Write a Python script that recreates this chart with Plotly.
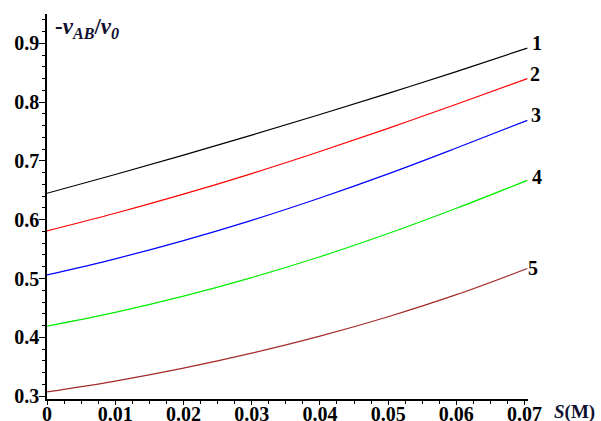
import plotly.graph_objects as go

s_vals = [0, 0.01, 0.02, 0.03, 0.04, 0.05, 0.06, 0.0704]
curve1 = [0.645, 0.677, 0.710, 0.744, 0.779, 0.815, 0.852, 0.892]
curve2 = [0.581, 0.611, 0.6435, 0.6785, 0.716, 0.7555, 0.7965, 0.840]
curve3 = [0.506, 0.5335, 0.5645, 0.599, 0.637, 0.678, 0.722, 0.769]
curve4 = [0.419, 0.4425, 0.470, 0.5015, 0.537, 0.5765, 0.6195, 0.667]
curve5 = [0.307, 0.3255, 0.3475, 0.373, 0.402, 0.435, 0.4725, 0.517]
labels = ["1", "2", "3", "4", "5"]
colors = ["#000000", "#ff0000", "#0000ff", "#00ee00", "#a52a2a"]

font_fam = "Liberation Serif"
fig = go.Figure()
curves = [curve1, curve2, curve3, curve4, curve5]
label_shift = [(3, 5), (1, 5), (2, 5), (3, 3), (-1, 1)]
for c, lab, col, (dx, dy) in zip(curves, labels, colors, label_shift):
    fig.add_trace(go.Scatter(x=s_vals, y=c, mode="lines",
                             line=dict(color=col, width=1.2, shape="spline",
                                       smoothing=1),
                             showlegend=False, hoverinfo="skip"))
    fig.add_annotation(x=s_vals[-1], y=c[-1], text="<b>%s</b>" % lab,
                       showarrow=False, xanchor="left", yanchor="middle",
                       xshift=dx, yshift=dy,
                       font=dict(family=font_fam, size=20, color="black"))

fig.add_annotation(xref="paper", yref="paper", x=0.012, y=1.0,
                   text="<b>-<i>v</i><sub><i>AB</i></sub>/<i>v</i><sub><i>0</i></sub></b>",
                   showarrow=False, xanchor="left", yanchor="top",
                   yshift=2,
                   font=dict(family=font_fam, size=23, color="#101030"))
fig.add_annotation(xref="paper", yref="paper", x=1.0, y=0.0,
                   text="<b><i>S</i>(M)</b>",
                   showarrow=False, xanchor="left", yanchor="top",
                   xshift=24, yshift=0,
                   font=dict(family=font_fam, size=19, color="#101030"))

axis_common = dict(showgrid=False, zeroline=False, showline=True,
                   linecolor="black", linewidth=1.5, ticks="outside",
                   tickcolor="black", tickwidth=1,
                   automargin=False,
                   tickfont=dict(family=font_fam, size=20, color="black",
                                 weight="bold"))
fig.update_xaxes(range=[0, 0.0705], tickmode="linear", tick0=0, dtick=0.01,
                 ticklen=4, ticklabelstandoff=-8,
                 minor=dict(tickmode="linear", tick0=0, dtick=0.0025,
                            ticks="outside", ticklen=3, tickwidth=1,
                            tickcolor="black", showgrid=False),
                 **axis_common)
fig.update_yaxes(range=[0.295, 0.95], tickmode="linear", tick0=0.3, dtick=0.1,
                 ticklen=6, ticklabelstandoff=-4,
                 minor=dict(tickmode="linear", tick0=0.3, dtick=0.02,
                            ticks="outside", ticklen=3, tickwidth=1,
                            tickcolor="black", showgrid=False),
                 **axis_common)
fig.update_layout(width=601, height=421,
                  margin=dict(l=47, r=73, t=14, b=22),
                  plot_bgcolor="white", paper_bgcolor="white")
fig.write_html("out.html", config={"displayModeBar": False},
               post_script="document.body.style.margin='0px';")
